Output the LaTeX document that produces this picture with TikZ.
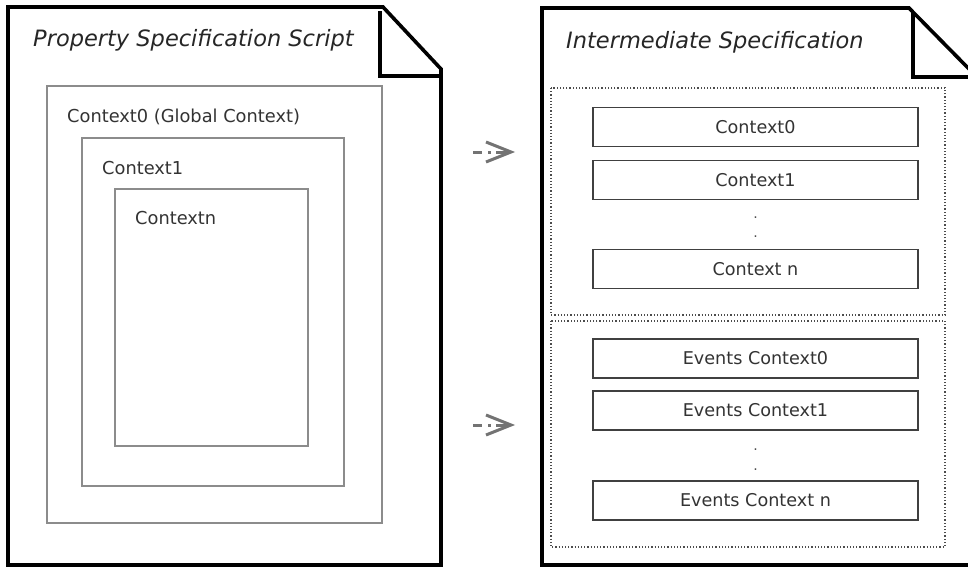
\documentclass[tikz,border=0pt]{standalone}
\usepackage{fontspec}
\setmainfont{DejaVu Sans}
\begin{document}
\begin{tikzpicture}[x=1pt,y=-1pt,
  page/.style={draw=black,line width=3.6pt,line join=miter,fill=white},
  fold/.style={draw=black,line width=3.6pt},
  title/.style={anchor=base west,inner sep=0pt,font=\itshape\fontsize{22.5}{26}\selectfont,text=black!85},
  nest/.style={draw=black!45,line width=1.8pt},
  nestlabel/.style={anchor=base west,inner sep=0pt,font=\fontsize{17.8}{21}\selectfont,text=black!80},
  group/.style={draw=black!70,line width=1.2pt,dotted},
  item/.style={draw=black!75,line width=1.8pt,minimum width=325pt,minimum height=39pt,inner sep=0pt,font=\fontsize{17.6}{21}\selectfont,text=black!80},
  dotmark/.style={anchor=base,inner sep=0pt,font=\fontsize{14}{16}\selectfont,text=black!70},
  flow/.style={draw=black!55,line width=3pt,dash pattern=on 9pt off 6pt on 3pt off 5pt on 20pt},
  tip/.style={draw=black!55,line width=3pt,line cap=butt,line join=miter}
]
\useasboundingbox (0,0) rectangle (968,568);
\clip (0,0) rectangle (968,568);

% left document page with folded corner
\draw[page] (8,7) -- (383,7) -- (441,69) -- (441,565) -- (8,565) -- cycle;
\draw[fold] (380,11) -- (380,76) -- (439,76);
\node[title] (ltitle) at (33,46) {Property Specification Script};

% nested contexts
\draw[nest] (47,86) rectangle (382,523);
\draw[nest] (82,138) rectangle (344,486);
\draw[nest] (115,189) rectangle (308,446);
\node[nestlabel] (lc0) at (67,122) {Context0 (Global Context)};
\node[nestlabel] (lc1) at (102,174) {Context1};
\node[nestlabel] (lcn) at (135,224) {Contextn};

% right document page with folded corner
\draw[page] (542,8) -- (909,8) -- (972,72) -- (972,565) -- (542,565) -- cycle;
\draw[fold] (913,13) -- (913,77) -- (970,77);
\node[title] (rtitle) at (566,48) {Intermediate Specification};

% context groups
\draw[group] (551,88) rectangle (945,315);
\draw[group] (551,321) rectangle (945,547);

\node[item] (c0) at (755.5,127) {Context0};
\node[item] (c1) at (755.5,180) {Context1};
\node[dotmark] (d1) at (755.5,218) {.};
\node[dotmark] (d2) at (755.5,237) {.};
\node[item] (cn) at (755.5,269) {Context n};

\node[item] (e0) at (755.5,358.5) {Events Context0};
\node[item] (e1) at (755.5,410.5) {Events Context1};
\node[dotmark] (d3) at (755.5,450) {.};
\node[dotmark] (d4) at (755.5,470) {.};
\node[item] (en) at (755.5,500.5) {Events Context n};

% transformation arrows
\coordinate (a1s) at (473,152);
\coordinate (a1e) at (509,152);
\coordinate (a2s) at (473,425);
\coordinate (a2e) at (509,425);
\draw[flow] (a1s) -- (a1e);
\draw[tip] ([shift={(-23,-10)}]a1e) -- ([shift={(2,0)}]a1e) -- ([shift={(-23,10)}]a1e);
\draw[flow] (a2s) -- (a2e);
\draw[tip] ([shift={(-23,-10)}]a2e) -- ([shift={(2,0)}]a2e) -- ([shift={(-23,10)}]a2e);
\end{tikzpicture}
\end{document}
